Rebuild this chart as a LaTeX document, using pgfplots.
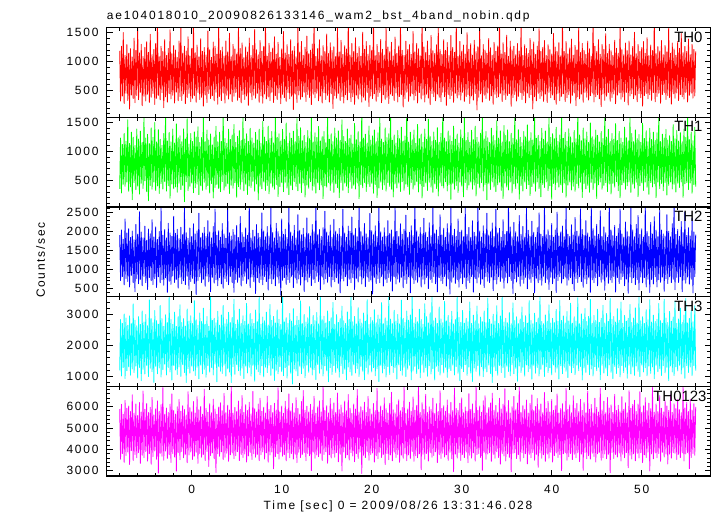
\documentclass[border=0pt]{standalone}
\usepackage{pgfplots}
\pgfplotsset{compat=1.18}
\usepgfplotslibrary{groupplots}
\usepackage{pgfplotstable}
\usetikzlibrary{calc}
\usepackage{fontspec}
\setmainfont[LetterSpace=15]{Liberation Sans}
\newfontfamily\thfont{Liberation Sans}

% WAM light curves, 0.1 s steps: TH0 TH1 TH2 TH3 TH0123 (counts/sec)
\pgfplotstableread{
t th0 th1 th2 th3 th0123
-8.0 1184 352 1905 1190 5870
-7.9 318 1226 705 2840 3540
-7.8 1262 281 2040 1010 6105
-7.7 405 1118 812 2715 3805
-7.6 1498 430 1795 1285 5640
-7.5 276 1305 590 3020 3390
-7.4 1105 395 2330 925 6280
-7.3 452 1172 760 2890 3710
-7.2 1290 468 1960 1180 5915
-7.1 330 1540 682 2655 3880
-7.0 1143 308 2075 1305 6020
-6.9 180 1134 536 2960 3295
-6.8 1221 385 1842 1035 5765
-6.7 421 1329 840 2705 3935
-6.6 1076 162 2010 1240 6545
-6.5 362 1242 645 3350 3480
-6.4 1402 459 1780 1120 5690
-6.3 289 1097 410 2815 3760
-6.2 1190 337 2185 1330 6115
-6.1 415 1383 760 2640 3605
-6.0 1655 398 1930 940 5580
-5.9 342 1210 622 2935 3850
-5.8 1148 260 2520 1285 6180
-5.7 470 1345 735 2680 3345
-5.6 1295 446 1985 855 5735
-5.5 238 1152 568 3120 3720
-5.4 1086 357 1830 1225 6720
-5.3 401 1582 812 2760 3610
-5.2 1244 488 2140 1075 5870
-5.1 320 1226 651 3005 3900
-5.0 1340 302 1770 1350 6140
-4.9 436 1290 470 2640 3450
-4.8 1158 145 2065 990 5715
-4.7 295 1131 785 3480 3795
-4.6 1470 410 1940 1265 5960
-4.5 382 1402 700 2870 3305
-4.4 1118 345 2310 1150 6420
-4.3 449 1238 598 2735 3660
-4.2 1207 469 1855 800 5610
-4.1 258 1495 752 3130 3920
-4.0 1312 322 2120 1320 5890
-3.9 364 1160 522 2805 3535
-3.8 1705 401 1790 1080 6260
-3.7 415 1369 805 2690 2890
-3.6 1080 270 1995 1270 5775
-3.5 338 1205 645 3300 3810
-3.4 1262 440 2620 975 6085
-3.3 462 1100 728 2870 3680
-3.2 1171 348 1905 1215 6880
-3.1 205 1302 580 2625 3490
-3.0 1376 475 2050 1390 5640
-2.9 390 1655 778 2995 3915
-2.8 1105 312 1830 1045 5925
-2.7 300 1175 395 2740 3575
-2.6 1225 404 2215 1285 5720
-2.5 445 1322 683 3560 3745
-2.4 1545 190 1960 1140 6110
-2.3 356 1160 605 2840 3390
-2.2 1133 433 1870 880 6590
-2.1 420 1380 828 2690 3800
-2.0 1278 353 2400 1350 5815
-1.9 283 1140 655 3080 3640
-1.8 1197 382 1950 1205 5650
-1.7 472 1470 735 2615 2980
-1.6 1068 291 2060 1060 5990
-1.5 323 1230 505 2935 3850
-1.4 1352 448 1810 1300 6330
-1.3 398 1264 792 3320 3515
-1.2 1610 340 2110 995 5780
-1.1 327 1160 620 2745 3895
-1.0 1144 409 1920 1375 6040
-0.9 440 1384 700 2870 3605
-0.8 1262 130 2640 1120 5860
-0.7 273 1210 596 2630 3770
-0.6 1180 474 1965 800 5605
-0.5 380 1560 818 3180 3375
-0.4 1425 320 1820 1245 6690
-0.3 451 1122 475 2790 3740
-0.2 1095 394 2090 1100 5945
-0.1 308 1305 680 2960 3880
0.0 1228 451 1870 1330 5750
0.1 365 1168 762 2710 3525
0.2 1690 285 2200 1170 6230
0.3 412 1333 628 3450 3680
0.4 1150 369 1930 1025 5690
0.5 296 1245 335 2835 3860
0.6 1283 432 2015 1290 6455
0.7 467 1420 707 2655 3345
0.8 1079 250 2480 915 5845
0.9 345 1148 805 3050 3805
1.0 1392 403 1840 1360 6005
1.1 383 1235 650 2775 3630
1.2 1175 325 1960 1080 5640
1.3 230 1640 740 3210 3760
1.4 1240 465 2110 1225 6800
1.5 421 1165 553 2690 3475
1.6 1112 343 1865 970 5910
1.7 292 1364 818 2940 3900
1.8 1525 408 2285 1345 5730
1.9 449 1190 671 2625 3200
2.0 1202 278 1990 1135 6130
2.1 360 1297 410 3620 3710
2.2 1072 441 1830 1285 5705
2.3 413 1108 792 2815 3830
2.4 1336 192 2130 1040 6340
2.5 321 1244 636 2880 3560
2.6 1263 374 2590 1395 5880
2.7 470 1430 725 2735 2920
2.8 1126 428 1905 820 5640
2.9 265 1162 568 3110 3790
3.0 1660 355 2020 1310 5975
3.1 396 1327 782 2660 3675
3.2 1188 300 1850 1165 6170
3.3 327 1169 617 2990 3880
3.4 1247 476 2210 1090 5800
3.5 454 1715 500 3300 3520
3.6 1093 330 1935 1360 6610
3.7 283 1217 762 2705 3630
3.8 1354 394 1820 1005 5710
3.9 419 1138 679 2845 3815
4.0 1166 438 2700 1240 6060
4.1 352 1380 594 3075 3440
4.2 1485 270 1965 1135 5830
4.3 438 1201 813 2740 3745
4.4 1082 414 1880 795 7010
4.5 306 1279 648 2910 3830
4.6 1295 362 2050 1310 5690
4.7 401 1459 395 3500 3560
4.8 1215 455 1910 1065 5960
4.9 464 1153 735 2685 3700
5.0 1129 205 2160 1375 5770
5.1 331 1257 657 2830 3890
5.2 1610 387 1840 1180 6250
5.3 376 1354 788 3180 3475
5.4 1224 345 2395 1030 5865
5.5 287 1185 562 2715 3760
5.6 1320 469 1970 1265 6510
5.7 432 1590 707 2965 3620
5.8 1065 316 1855 925 5720
5.9 347 1211 822 2785 3785
6.0 1252 431 2095 1330 6085
6.1 404 1300 629 3365 3405
6.2 1164 255 1900 1110 5810
6.3 245 1167 742 2695 3690
6.4 1405 402 2810 1290 6195
6.5 458 1396 518 3035 3855
6.6 1102 374 1825 1005 5655
6.7 339 1228 799 2850 3525
6.8 1277 480 2035 1355 6700
6.9 420 1140 683 2715 3795
7.0 1553 308 1870 840 5895
7.1 366 1325 364 3150 3630
7.2 1200 435 2180 1225 5740
7.3 451 1195 779 2770 3765
7.4 1117 160 1950 1150 6110
7.5 297 1380 647 3555 3470
7.6 1360 397 1845 1045 6385
7.7 408 1134 735 2690 3750
7.8 1179 350 2490 1335 5780
7.9 280 1512 592 2925 3880
8.0 1261 470 2015 980 5965
8.1 439 1243 813 2800 3545
8.2 1690 322 1860 1295 5690
8.3 354 1167 680 3080 3835
8.4 1091 409 2130 1120 6475
8.5 389 1431 452 2665 3400
8.6 1314 266 1880 1360 5860
8.7 324 1217 761 3330 3735
8.8 1162 447 2625 1030 6045
8.9 470 1338 619 2815 3880
9.0 1232 379 1975 1245 5715
9.1 293 1143 744 2940 3090
9.2 1424 343 1830 865 6150
9.3 411 1648 567 2730 3660
9.4 1124 428 2215 1200 5830
9.5 345 1239 797 3155 3795
9.6 1330 217 1995 1080 6870
9.7 458 1299 638 2850 3545
9.8 1073 391 1860 1315 5750
9.9 272 1175 317 2680 3880
10.0 1217 456 2330 1150 6020
10.1 433 1378 710 3670 3680
10.2 1515 302 1925 1020 5680
10.3 378 1202 785 2765 3750
10.4 1145 465 2060 1280 6245
10.5 312 1484 603 2900 3460
10.6 1290 364 1840 940 5865
10.7 465 1138 725 2715 3845
10.8 1120 250 2710 1355 6590
10.9 356 1313 656 3035 3610
11.0 1376 410 1985 1100 5790
11.1 401 1223 816 2790 3800
11.2 1185 335 1880 750 6140
11.3 173 1343 519 3190 3545
11.4 1258 472 2165 1235 5700
11.5 437 1164 768 2655 3770
11.6 1080 393 1830 1170 6410
11.7 294 1560 635 2945 3380
11.8 1637 317 2440 1015 5905
11.9 423 1255 747 2820 3860
12.0 1163 444 2030 1325 5640
12.1 348 1403 584 3445 3615
12.2 1345 286 1910 1085 6230
12.3 390 1181 803 2710 3760
12.4 1106 451 2085 1260 6740
12.5 469 1274 417 3005 3850
12.6 1246 209 1855 950 5820
12.7 311 1151 721 2760 3470
12.8 1438 415 2360 1360 6015
12.9 432 1355 667 2895 3805
13.0 1134 360 1950 1130 5745
13.1 380 1216 789 3260 3700
13.2 1195 473 1880 1290 6100
13.3 259 1612 572 2685 3005
13.4 1302 328 2180 1045 5835
13.5 436 1157 736 2975 3870
13.6 1725 395 1990 1215 6480
13.7 373 1318 647 2805 3585
13.8 1089 277 2800 890 5690
13.9 454 1234 818 3065 3740
14.0 1226 453 1915 1380 5980
14.1 322 1427 680 2700 3655
14.2 1374 336 2050 1100 6260
14.3 405 1175 468 3560 3815
14.4 1098 418 1870 1240 5745
14.5 285 1251 796 2835 3480
14.6 1273 181 2100 1010 6945
14.7 461 1339 611 2950 3760
14.8 1171 404 2535 1335 5810
14.9 347 1144 753 2725 3890
15.0 1472 381 1985 1175 6035
15.1 416 1663 658 3120 3350
15.2 1136 462 1885 825 5700
15.3 301 1208 811 2780 3745
15.4 1323 322 2170 1280 6375
15.5 443 1299 537 2900 3595
15.6 1188 447 1850 1060 5880
15.7 190 1164 724 3395 3800
15.8 1253 290 2320 1350 6165
15.9 412 1400 676 2690 3630
16.0 1088 437 2010 1125 5725
16.1 366 1226 778 3000 3850
16.2 1575 373 1930 1265 6630
16.3 450 1351 629 2745 3420
16.4 1162 198 2080 970 5850
16.5 327 1188 380 2870 3770
16.6 1364 460 1875 1340 6070
16.7 395 1539 757 3275 2990
16.8 1120 327 2590 1085 5710
16.9 283 1252 692 2800 3880
17.0 1271 449 1960 1230 6255
17.1 426 1166 805 2715 3600
17.2 1216 395 1845 890 5795
17.3 338 1383 567 3085 3745
17.4 1700 285 2140 1300 6560
17.5 463 1218 740 2850 3500
17.6 1111 472 2005 1145 5920
17.7 307 1277 649 3650 3840
17.8 1309 358 2380 1030 5680
17.9 392 1123 783 2770 3690
18.0 1173 412 1905 1370 6115
18.1 261 1478 471 2940 3420
18.2 1407 347 2075 1110 5880
18.3 419 1197 762 2700 3800
18.4 1140 450 1860 1255 6790
18.5 354 1337 666 3225 3575
18.6 1256 179 2680 995 5745
18.7 437 1157 822 2855 3870
18.8 1090 423 1995 1320 5985
18.9 300 1694 613 2730 2870
19.0 1504 369 1880 1165 5810
19.1 384 1227 772 3050 3720
19.2 1209 461 2210 890 6200
19.3 332 1292 545 2790 3615
19.4 1345 306 1935 1285 5715
19.5 466 1141 799 3480 3880
19.6 1126 435 1850 1070 6470
19.7 226 1433 681 2680 3490
19.8 1277 388 2475 1360 5890
19.9 406 1190 718 2910 3760
20.0 1194 447 2020 1140 5650
20.1 361 1263 352 2805 3830
20.2 1740 276 1910 1275 6135
20.3 444 1365 789 3160 3405
20.4 1099 425 2150 1015 5805
20.5 314 1165 626 2735 3700
20.6 1293 200 1870 1250 6850
20.7 398 1316 757 2985 3560
20.8 1157 364 2760 830 5740
20.9 466 1580 648 2860 3865
21.0 1381 468 1990 1355 6025
21.1 290 1209 812 3390 3620
21.2 1211 341 1855 1105 5815
21.3 425 1149 560 2705 3760
21.4 1112 416 2095 1245 6405
21.5 347 1401 738 2895 3290
21.6 1590 312 1875 975 5900
21.7 382 1233 652 2790 3800
21.8 1249 457 2285 1315 5700
21.9 275 1298 786 3580 3510
22.0 1169 392 1950 1060 6150
22.1 437 1636 683 2855 3735
22.2 1331 343 2040 1340 6660
22.3 411 1191 430 2710 3465
22.4 1093 210 1860 1125 5840
22.5 325 1280 808 3140 3870
22.6 1420 435 2620 1275 5705
22.7 456 1141 614 2790 3620
22.8 1140 364 2005 905 6080
22.9 304 1357 747 3005 3760
23.0 1268 450 1870 1370 6310
23.1 395 1216 660 2700 3395
23.2 1640 305 2200 1180 5795
23.3 428 1414 792 3470 3730
23.4 1191 472 1925 1035 5950
23.5 216 1175 514 2880 3585
23.6 1104 327 2060 1295 6890
23.7 360 1260 733 2745 3810
23.8 1350 431 2430 990 5670
23.9 469 1733 630 3115 3470
24.0 1205 392 1845 1230 5885
24.1 313 1158 804 2820 3740
24.2 1290 256 1980 1355 6200
24.3 402 1326 384 2990 3575
24.4 1122 460 2150 885 5760
24.5 445 1196 770 3690 3895
24.6 1515 346 1890 1170 6445
24.7 335 1364 625 2725 3440
24.8 1165 414 2870 1320 5830
24.9 409 1137 720 2905 3705
25.0 1312 474 2015 1085 6055
25.1 285 1460 659 2770 3610
25.2 1220 296 1860 1240 7000
25.3 462 1216 797 3175 3790
25.4 1096 437 2105 950 5720
25.5 352 1295 535 2840 3050
25.6 1743 193 1930 1365 6175
25.7 418 1152 741 2690 3770
25.8 1250 388 2350 1130 5860
25.9 302 1381 613 3350 3540
26.0 1158 453 1980 1280 6570
26.1 436 1204 786 2935 3805
26.2 1352 322 1845 1005 5715
26.3 369 1553 491 2735 3455
26.4 1107 466 2230 1345 5980
26.5 256 1251 734 3060 3850
26.6 1450 380 1890 1075 5865
26.7 450 1166 653 3600 3630
26.8 1186 292 2650 1250 6390
26.9 391 1330 810 2800 3715
27.0 1138 436 1955 880 5670
27.1 322 1187 619 2890 3880
27.2 1287 358 2040 1325 6130
27.3 437 1404 406 2715 3380
27.4 1592 229 1870 1160 5760
27.5 384 1153 779 3245 3750
27.6 1205 451 2440 1040 6730
27.7 306 1309 697 2860 3570
27.8 1121 401 1910 1375 5905
27.9 470 1671 627 2735 3815
28.0 1375 365 2085 1110 6035
28.1 393 1226 814 3430 3640
28.2 1192 472 1850 1290 5780
28.3 244 1164 562 2800 3745
28.4 1325 315 2205 965 6305
28.5 430 1349 746 2975 3485
28.6 1105 424 1965 1255 5670
28.7 357 1266 348 2740 3860
28.8 1449 170 2750 1185 6190
28.9 414 1169 659 3110 3560
29.0 1243 446 1895 1365 5805
29.1 297 1431 794 2700 2960
29.2 1157 343 2060 1045 6860
29.3 453 1209 630 2840 3775
29.4 1675 408 1870 1320 5900
29.5 371 1296 727 3580 3590
29.6 1087 289 2330 1100 5820
29.7 421 1139 532 2905 3850
29.8 1344 467 1980 860 6150
29.9 338 1367 770 2745 3480
30.0 1178 399 2035 1250 6400
30.1 467 1220 622 3135 3760
30.2 1282 213 1860 1150 5710
30.3 313 1597 789 2725 3615
30.4 1126 460 2640 1375 5975
30.5 394 1185 493 2880 3870
30.6 1496 333 1925 1030 5780
30.7 431 1322 705 2770 3375
30.8 1213 414 2105 1295 6595
30.9 278 1153 650 3405 3720
31.0 1306 468 1845 1105 5860
31.1 406 1359 811 2715 3590
31.2 1109 345 2280 830 6120
31.3 334 1197 398 2985 3830
31.4 1366 416 1975 1270 5680
31.5 448 1432 758 2800 3450
31.6 1170 228 1880 1160 6940
31.7 165 1240 641 3280 3755
31.8 1253 443 2780 1345 5820
31.9 385 1158 795 2705 3800
32.0 1614 366 2010 1010 6020
32.1 441 1310 606 2920 3620
32.2 1099 456 1855 1310 5725
32.3 302 1675 744 2770 3020
32.4 1291 314 2150 985 6265
32.5 418 1211 519 3120 3860
32.6 1196 427 1940 1255 6500
32.7 362 1339 813 2735 3535
32.8 1145 162 2480 1140 5700
32.9 459 1232 688 3540 3780
33.0 1395 448 1905 1365 5945
33.1 330 1152 650 2850 3840
33.2 1237 340 1990 1090 6165
33.3 407 1398 799 2700 3440
33.4 1103 470 2225 800 6620
33.5 262 1270 436 3010 3765
33.6 1331 383 1870 1300 5825
33.7 437 1182 725 2790 3585
33.8 1177 302 2590 1180 6050
33.9 376 1522 617 3290 3890
34.0 1268 421 1960 1035 5735
34.1 391 1227 804 2715 3620
34.2 1730 465 2085 1350 6385
34.3 452 1350 681 2955 3305
34.4 1130 325 1845 1120 5880
34.5 309 1160 765 3600 3800
34.6 1323 185 2310 1275 6110
34.7 421 1441 504 2760 3690
34.8 1158 449 1925 960 6830
34.9 344 1268 790 2880 3455
35.0 1453 382 2000 1330 5750
35.1 415 1367 642 2735 3790
35.2 1089 330 2780 1155 6280
35.3 447 1165 812 3065 3620
35.4 1350 471 2115 1015 5695
35.5 228 1310 708 2705 2950
35.6 1201 280 1860 1370 5990
35.7 378 1224 365 3380 3815
35.8 1265 435 2240 1080 6465
35.9 432 1610 756 2805 3840
36.0 1116 357 1990 1260 5845
36.1 318 1198 665 2930 3570
36.2 1309 450 1860 840 6160
36.3 399 1369 808 2710 3750
36.4 1181 172 2420 1335 7000
36.5 466 1241 558 2860 3440
36.6 1640 408 1925 1125 5730
36.7 345 1147 736 3250 3840
36.8 1105 314 2135 1290 6035
36.9 413 1338 631 2750 3610
37.0 1289 470 1850 1005 5865
37.1 287 1246 789 2965 3790
37.2 1222 353 2615 1365 6300
37.3 456 1453 487 2725 3320
37.4 1139 423 2030 1150 5690
37.5 374 1178 741 3455 3765
37.6 1395 237 1875 1245 6140
37.7 428 1319 654 2810 3605
37.8 1208 390 2270 905 6540
37.9 182 1194 806 2700 3850
38.0 1336 446 1980 1355 5810
38.1 391 1695 380 3045 3490
38.2 1118 309 1845 1100 6000
38.3 321 1223 766 2745 3765
38.4 1264 468 2100 1285 6370
38.5 450 1274 645 2890 3160
38.6 1565 356 2490 1010 5850
38.7 363 1167 720 3660 3830
38.8 1172 213 1930 1225 6115
38.9 405 1393 583 2775 3585
39.0 1240 427 1870 1370 5705
39.1 312 1206 818 2705 3745
39.2 1360 375 2725 995 6650
39.3 437 1347 650 2990 3440
39.4 1101 469 1910 1315 5900
39.5 293 1160 739 2790 3775
39.6 1289 320 2045 1120 6240
39.7 468 1566 471 3315 3590
39.8 1204 404 1895 1275 5745
39.9 376 1238 795 2725 3860
40.0 1128 172 2210 1045 6325
40.1 422 1301 622 2880 3405
40.2 1483 443 1850 1365 5820
40.3 340 1214 762 2740 3710
40.4 1250 335 2040 1130 6030
40.5 262 1412 391 3170 3830
40.6 1176 458 2510 1260 6585
40.7 451 1168 704 2785 3620
40.8 1322 380 1880 910 5695
40.9 325 1277 805 3460 3755
41.0 1097 422 1985 1340 5905
41.1 399 1630 638 2810 3010
41.2 1696 290 2145 1085 6130
41.3 444 1224 752 2955 3790
41.4 1171 453 1860 1290 5740
41.5 308 1325 796 2730 3840
41.6 1344 206 2690 1165 6835
41.7 375 1171 580 3100 3495
41.8 1131 414 1930 960 5860
41.9 429 1387 717 2790 3650
42.0 1233 469 1870 1345 6070
42.1 280 1246 781 3370 3800
42.2 1386 333 2175 1115 5705
42.3 415 1146 620 2725 3525
42.4 1106 395 1905 1275 6495
42.5 458 1355 437 2930 3770
42.6 1279 309 2370 1050 5915
42.7 239 1213 760 2790 3610
42.8 1197 442 2010 1360 6140
42.9 392 1674 654 3550 3835
43.0 1573 366 1880 1180 5760
43.1 356 1279 805 2705 3425
43.2 1155 465 2595 1315 6335
43.3 437 1180 676 3025 3775
43.4 1311 202 2050 880 5815
43.5 298 1399 527 2850 3020
43.6 1192 440 1900 1270 6180
43.7 468 1212 746 3200 3850
43.8 1120 350 2285 1125 5700
43.9 383 1331 622 2775 3560
44.0 1350 412 1960 1375 6715
44.1 335 1150 792 2940 3700
44.2 1218 291 1850 1050 5865
44.3 410 1486 395 3490 3545
44.4 1084 463 2740 1240 6090
44.5 455 1250 723 2720 3820
44.6 1755 338 2075 1010 5705
44.7 302 1196 648 2975 3665
44.8 1263 448 1885 1310 6385
44.9 393 1365 780 2810 3405
45.0 1171 185 2190 1180 5960
45.1 427 1273 566 3175 3790
45.2 1376 420 1925 1290 5740
45.3 357 1160 808 2745 3860
45.4 1125 469 2545 890 6855
45.5 222 1339 660 2880 3490
45.6 1294 345 1870 1355 5840
45.7 441 1218 741 3300 3610
45.8 1208 411 2120 1105 6245
45.9 330 1606 452 2725 3785
46.0 1479 459 1965 1265 5705
46.1 401 1243 796 3035 3560
46.2 1137 304 1845 1020 6420
46.3 466 1377 634 2780 3770
46.4 1296 433 2820 1370 5925
46.5 315 1166 722 3520 2905
46.6 1186 262 2035 1130 6075
46.7 380 1305 654 2845 3850
46.8 1105 444 1890 925 5720
46.9 439 1207 812 2940 3575
47.0 1365 381 2160 1320 6565
47.1 272 1475 402 2760 3760
47.2 1228 472 1870 1090 5815
47.3 420 1184 784 3190 3640
47.4 1143 320 2075 1280 6055
47.5 459 1341 625 2815 3830
47.6 1620 196 2590 980 5750
47.7 349 1226 735 3405 3455
47.8 1203 418 1935 1350 6455
47.9 387 1153 806 2720 3775
48.0 1116 461 1850 1120 5865
48.1 311 1414 570 2975 3610
48.2 1318 346 2250 1295 6175
48.3 466 1232 741 2790 3850
48.4 1186 406 1990 935 5700
48.5 251 1178 372 2885 3140
48.6 1352 469 1875 1360 6735
48.7 407 1592 802 3330 3720
48.8 1114 289 2660 1075 5920
48.9 443 1305 646 2745 3550
49.0 1259 432 2040 1300 6095
49.1 358 1165 781 2890 3790
49.2 1501 362 1860 1030 6290
49.3 419 1368 598 3220 3465
49.4 1132 465 2185 1335 5760
49.5 305 1216 730 2725 3810
49.6 1293 215 2420 1160 6115
49.7 449 1286 456 3570 3595
49.8 1173 401 1925 990 6690
49.9 375 1154 797 2800 3845
50.0 1238 455 2070 1365 5725
50.1 230 1480 645 2930 3380
50.2 1342 324 1855 1140 6030
50.3 412 1219 782 2715 3745
50.4 1140 470 2720 1280 6410
50.5 448 1352 535 3160 3615
50.6 1410 378 2000 1015 5810
50.7 357 1160 740 2830 3870
50.8 1101 257 1870 1330 6155
50.9 426 1393 390 3485 2990
51.0 1284 459 2240 1095 5895
51.1 330 1202 733 2760 3785
51.2 1190 384 1930 1300 6880
51.3 463 1328 615 2985 3560
51.4 1712 440 2390 920 5735
51.5 305 1185 803 2775 3830
51.6 1135 198 2035 1355 6120
51.7 397 1315 538 2850 3610
51.8 1256 466 1860 1150 5760
51.9 452 1609 726 3360 3800
52.0 1180 355 2560 1255 6505
52.1 281 1166 660 2805 3440
52.2 1362 442 2040 1025 5920
52.3 429 1294 795 2720 3860
52.4 1117 319 1935 1345 5745
52.5 466 1226 421 3500 3640
52.6 1275 458 1880 1110 6270
52.7 346 1375 752 2890 3785
52.8 1166 244 2440 1290 6025
52.9 412 1191 625 2745 3320
53.0 1592 411 2005 860 5815
53.1 377 1266 801 3105 3775
53.2 1141 470 1860 1335 6540
53.3 265 1167 650 2790 3590
53.4 1317 348 2205 1140 5730
53.5 442 1457 740 2925 3840
53.6 1215 428 2785 1020 6125
53.7 368 1214 466 3435 3815
53.8 1108 296 1925 1305 5900
53.9 457 1356 789 2720 3530
54.0 1348 449 2055 1175 6330
54.1 326 1175 655 2860 3765
54.2 1227 375 1870 1355 5850
54.3 431 1318 806 3210 3610
54.4 1480 469 2260 1075 5710
54.5 393 1162 409 2745 3835
54.6 1152 205 1975 1270 6900
54.7 352 1380 720 2985 3460
54.8 1260 436 2510 935 5930
54.9 467 1236 633 3520 3780
55.0 1174 460 1895 1345 6190
55.1 302 1645 798 2730 3850
55.2 1385 338 2100 1125 5760
55.3 418 1199 611 2880 3095
55.4 1116 452 1880 1300 6340
55.5 454 1329 741 3135 3615
55.6 1296 276 2345 1020 5835
55.7 369 1181 380 2765 3805
55.8 1208 423 1990 1350 6130
55.9 406 1412 804 3285 3720
56.0 1175 391 1915 1180 5980
}\wamdata

\definecolor{qred}{RGB}{255,0,0}
\definecolor{qgreen}{RGB}{0,255,0}
\definecolor{qblue}{RGB}{0,0,255}
\definecolor{qcyan}{RGB}{0,255,255}
\definecolor{qmagenta}{RGB}{255,0,255}

\pgfplotsset{lc/.style={line width=0.8bp, line join=round}}
\tikzset{thlabel/.style={anchor=north east, inner sep=0pt, font=\thfont\fontsize{15}{15}\selectfont}}

\begin{document}
\begin{tikzpicture}
\begin{groupplot}[
  group style={group size=1 by 5, vertical sep=0pt, x descriptions at=edge bottom},
  scale only axis, width=604bp, height=89.7bp,
  xmin=-9.44, xmax=57.67,
  xtick={0,10,...,50}, xticklabels={0,10,20,30,40,50},
  minor xtick={-8,-6,...,56},
  tick align=inside,
  major tick length=6bp, minor tick length=3.5bp,
  axis line style={line width=1.2bp},
  every tick/.style={black, line width=0.6bp},
  axis on top,
  every tick label/.append style={font=\fontsize{12}{14}\selectfont},
  yticklabel style={anchor=east, inner sep=0pt, xshift=-8bp},
  xticklabel style={anchor=north, inner sep=0pt, yshift=-9bp},
]
\nextgroupplot[ymin=40, ymax=1585, ytick={500,1000,1500}, yticklabels={500,1000,1500},
  minor ytick={100,200,...,1500}]
\addplot[qred, lc] table[x=t, y=th0] {\wamdata};
\coordinate (tl) at (rel axis cs:0,1);
\node[thlabel] at (rel axis cs:1,1) [xshift=-8bp, yshift=-4.2bp] {TH0};

\nextgroupplot[ymin=40, ymax=1585, ytick={500,1000,1500}, yticklabels={500,1000,1500},
  minor ytick={100,200,...,1500}]
\addplot[qgreen, lc] table[x=t, y=th1] {\wamdata};
\node[thlabel] at (rel axis cs:1,1) [xshift=-8bp, yshift=-4.2bp] {TH1};

\nextgroupplot[ymin=282, ymax=2647, ytick={500,1000,...,2500}, yticklabels={500,1000,1500,2000,2500},
  minor ytick={300,400,...,2600}]
\addplot[qblue, lc] table[x=t, y=th2] {\wamdata};
\node[thlabel] at (rel axis cs:1,1) [xshift=-8bp, yshift=-4.2bp] {TH2};

\nextgroupplot[ymin=675, ymax=3584, ytick={1000,2000,3000}, yticklabels={1000,2000,3000},
  minor ytick={800,1000,...,3400}]
\addplot[qcyan, lc] table[x=t, y=th3] {\wamdata};
\node[thlabel] at (rel axis cs:1,1) [xshift=-8bp, yshift=-4.7bp] {TH3};

\nextgroupplot[ymin=2755, ymax=6940, ytick={3000,4000,5000,6000}, yticklabels={3000,4000,5000,6000},
  minor ytick={2800,3000,...,6800}]
\addplot[qmagenta, lc] table[x=t, y=th0123] {\wamdata};
\node[thlabel] at (rel axis cs:1,1) [xshift=-4bp, yshift=-4.5bp] {TH0123};
\coordinate (br) at (rel axis cs:1,0);
\coordinate (bl) at (rel axis cs:0,0);
\end{groupplot}

\node[anchor=base west, inner sep=0pt, font=\fontsize{12}{12}\selectfont]
  at ($(tl)+(0,8.2bp)$) {ae104018010\_20090826133146\_wam2\_bst\_4band\_nobin.qdp};
\node[anchor=base, inner sep=0pt, font=\fontsize{12}{12}\selectfont]
  at ($(bl)+(291.3bp,-33bp)$) {Time [sec] 0 = 2009/08/26 13:31:46.028};
\node[rotate=90, anchor=center, inner sep=0pt, font=\fontsize{12}{12}\selectfont]
  at ($(tl)+(-66bp,-232.5bp)$) {Counts/sec};

\pgfresetboundingbox
\path ($(tl)+(-106.7bp,27.5bp)$) rectangle ($(br)+(6.3bp,-40bp)$);
\end{tikzpicture}
\end{document}
